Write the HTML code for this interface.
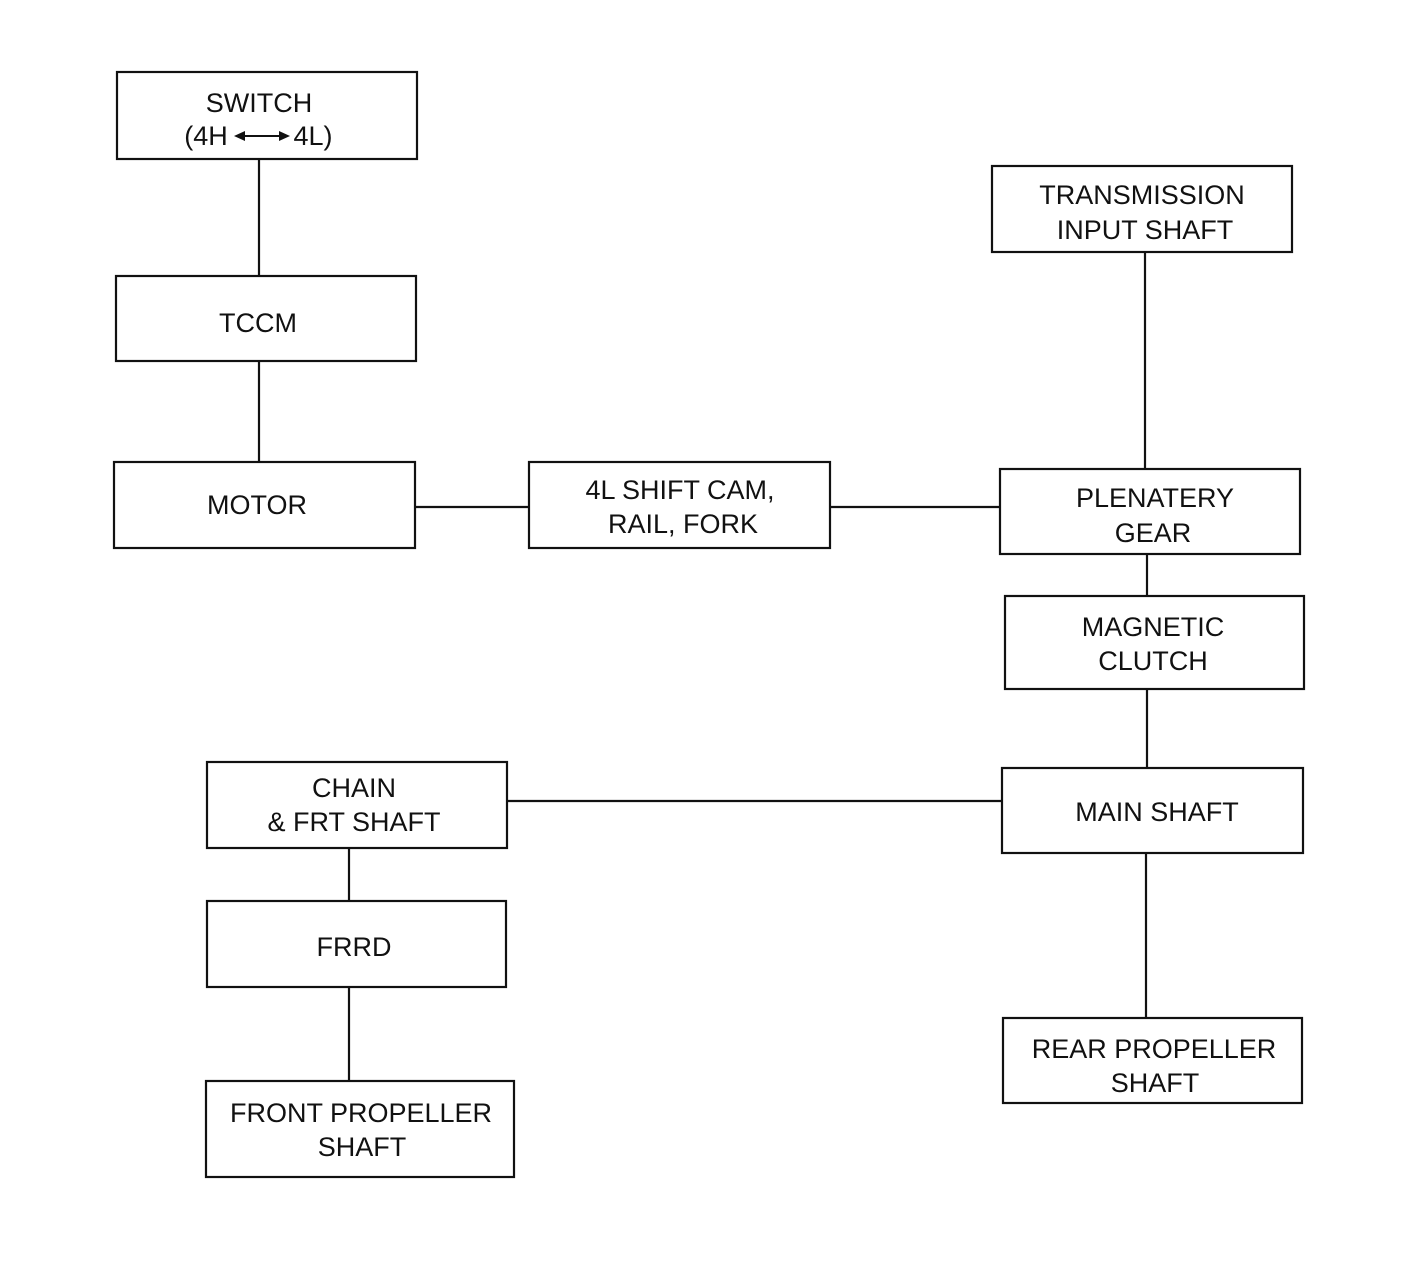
<!DOCTYPE html>
<html><head><meta charset="utf-8"><style>
html,body{margin:0;padding:0;background:#fff;}
svg{display:block;}
text{font-family:"Liberation Sans",sans-serif;font-size:27px;fill:#111;text-anchor:middle;}
</style></head><body>
<svg width="1408" height="1288" viewBox="0 0 1408 1288" xmlns="http://www.w3.org/2000/svg">
<g fill="none" stroke="#111" stroke-width="2.2">
<rect x="117" y="72" width="300" height="87"/>
<rect x="116" y="276" width="300" height="85"/>
<rect x="114" y="462" width="301" height="86"/>
<rect x="529" y="462" width="301" height="86"/>
<rect x="992" y="166" width="300" height="86"/>
<rect x="1000" y="469" width="300" height="85"/>
<rect x="1005" y="596" width="299" height="93"/>
<rect x="1002" y="768" width="301" height="85"/>
<rect x="1003" y="1018" width="299" height="85"/>
<rect x="207" y="762" width="300" height="86"/>
<rect x="207" y="901" width="299" height="86"/>
<rect x="206" y="1081" width="308" height="96"/>
<line x1="259" y1="159" x2="259" y2="276"/>
<line x1="259" y1="361" x2="259" y2="462"/>
<line x1="415" y1="507" x2="529" y2="507"/>
<line x1="830" y1="507" x2="1000" y2="507"/>
<line x1="1145" y1="252" x2="1145" y2="469"/>
<line x1="1147" y1="554" x2="1147" y2="596"/>
<line x1="1147" y1="689" x2="1147" y2="768"/>
<line x1="507" y1="801" x2="1002" y2="801"/>
<line x1="349" y1="848" x2="349" y2="901"/>
<line x1="349" y1="987" x2="349" y2="1081"/>
<line x1="1146" y1="853" x2="1146" y2="1018"/>
<line x1="240" y1="136" x2="284" y2="136" stroke-width="2"/>
</g>
<polygon points="234,136 245,131 245,141" fill="#111"/>
<polygon points="290,136 279,131 279,141" fill="#111"/>
<text x="259" y="112">SWITCH</text>
<text x="206" y="145">(4H</text>
<text x="313" y="145">4L)</text>
<text x="258" y="332">TCCM</text>
<text x="257" y="514">MOTOR</text>
<text x="680" y="499">4L SHIFT CAM,</text>
<text x="683" y="533">RAIL, FORK</text>
<text x="1142" y="204">TRANSMISSION</text>
<text x="1145" y="239">INPUT SHAFT</text>
<text x="1155" y="507">PLENATERY</text>
<text x="1153" y="542">GEAR</text>
<text x="1153" y="636">MAGNETIC</text>
<text x="1153" y="670">CLUTCH</text>
<text x="1157" y="821">MAIN SHAFT</text>
<text x="1154" y="1058">REAR PROPELLER</text>
<text x="1155" y="1092">SHAFT</text>
<text x="354" y="797">CHAIN</text>
<text x="354" y="831">&amp; FRT SHAFT</text>
<text x="354" y="956">FRRD</text>
<text x="361" y="1122">FRONT PROPELLER</text>
<text x="362" y="1156">SHAFT</text>
</svg>
</body></html>
